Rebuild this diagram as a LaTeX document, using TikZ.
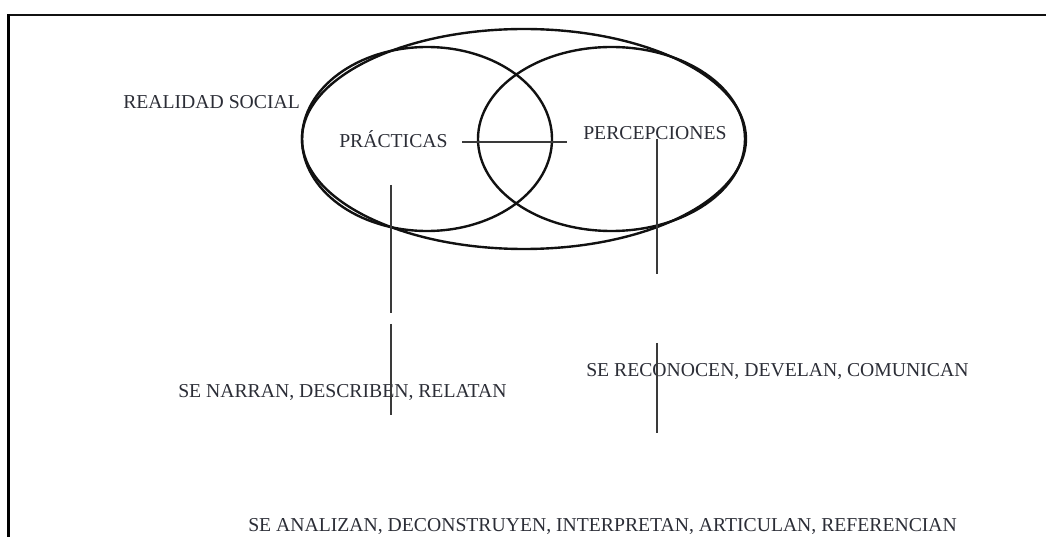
\documentclass[tikz,border=0pt]{standalone}
\usepackage{fontspec}
\setmainfont{Liberation Serif}
\usepackage{tikz}
\usetikzlibrary{positioning,calc}
\definecolor{rsInk}{HTML}{2B2D36}
\definecolor{rsLine}{HTML}{111111}
\definecolor{rsStem}{HTML}{3A3A3A}

\tikzset{
  rslabel/.style={inner sep=0pt,anchor=base west,text=rsInk,
                  font=\fontsize{14pt}{16pt}\selectfont},
  rsring/.style={draw=rsLine,line width=1.7pt},
  rsstem/.style={draw=rsStem,line width=1.4pt},
}

\begin{document}
\begin{tikzpicture}[x=0.025cm,y=-0.025cm]
  \useasboundingbox (0,0) rectangle (1046,537);
  % frame (top and left edges only)
  \draw[rsLine,line width=1.6pt] (8.7,15) -- (1046,15);
  \draw[black,line width=2pt] (8.7,537) -- (8.7,14.5);

  % the three rings
  \draw[rsring] (524,139) ellipse [x radius=222, y radius=110];
  \draw[rsring] (427,139) ellipse [x radius=125, y radius=92];
  \draw[rsring] (611.5,139) ellipse [x radius=133.5, y radius=92];

  % labels
  \node[rslabel] (social) at (123,108.5) {REALIDAD SOCIAL};
  \node[rslabel] (pract) at (339,148) {PRÁCTICAS};
  \node[rslabel] (percep) at (583,140) {PERCEPCIONES};
  \node[rslabel] (narran) at (178,397) {SE NARRAN, DESCRIBEN, RELATAN};
  \node[rslabel] (recon) at (586,376) {SE RECONOCEN, DEVELAN, COMUNICAN};
  \node[rslabel] (analiz) at (248,531)
    {SE ANALIZAN, DECONSTRUYEN, INTERPRETAN, ARTICULAN, REFERENCIAN};

  % stems
  \coordinate (midL) at (462,142);
  \coordinate (midR) at (567,142);
  \coordinate (pA) at (391,185);
  \coordinate (pB) at (391,313);
  \coordinate (pC) at (391,324);
  \coordinate (pD) at (391,415);
  \coordinate (qA) at (657,139);
  \coordinate (qB) at (657,274);
  \coordinate (qC) at (657,343);
  \coordinate (qD) at (657,433);
  \draw[rsstem] (midL) -- (midR);
  \draw[rsstem] (pA) -- (pB);
  \draw[rsstem] (pC) -- (pD);
  \draw[rsstem] (qA) -- (qB);
  \draw[rsstem] (qC) -- (qD);
\end{tikzpicture}
\end{document}
